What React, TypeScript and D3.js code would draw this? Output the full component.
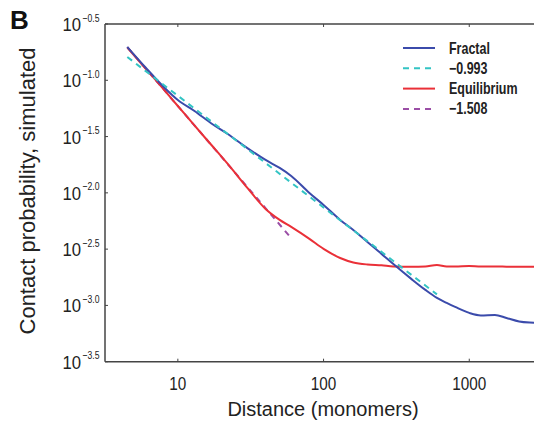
import React from "react";
import * as d3 from "d3";

// Distances (monomers)
const distances = [4.5, 6, 8, 10, 13, 17, 22, 30, 40, 50, 60, 80, 100, 130, 160, 200, 250, 300, 400, 500, 600, 700, 800, 1000, 1200, 1500, 1800, 2200, 2600, 3000];
// Fractal globule contact probability
const fractalProb = [0.1977, 0.130, 0.0872, 0.0668, 0.0534, 0.0413, 0.0333, 0.0250, 0.0196, 0.01664, 0.01413, 0.00998, 0.00781, 0.00575, 0.00468, 0.00366, 0.00287, 0.00234, 0.00172, 0.001373, 0.001166, 0.001052, 0.00097, 0.000858, 0.000815, 0.000823, 0.000774, 0.000721, 0.000704, 0.000699];
// Equilibrium globule contact probability
const equilibriumProb = [0.1956, 0.1273, 0.0829, 0.0591, 0.0397, 0.0266, 0.01806, 0.01105, 0.00719, 0.00575, 0.00498, 0.0039, 0.00318, 0.00264, 0.00241, 0.00231, 0.00227, 0.00222, 0.0022, 0.00222, 0.00229, 0.00222, 0.00222, 0.00224, 0.00222, 0.00222, 0.00221, 0.0022, 0.0022, 0.0022];
// Power-law fits (endpoints)
const fractalFitDist = [4.5, 600];
const fractalFitProb = [0.161, 0.001253];
const equilFitDist = [4.5, 58];
const equilFitProb = [0.1968, 0.00417];

const xTicks = [10, 100, 1000];
const yTickExps = ["−0.5", "−1.0", "−1.5", "−2.0", "−2.5", "−3.0", "−3.5"];
const yTickVals = [-0.5, -1.0, -1.5, -2.0, -2.5, -3.0, -3.5];

const legendLabels = ["Fractal", "−0.993", "Equilibrium", "−1.508"];

const W = 534, H = 424;
const L = 105, T = 24, B = 361.7;

export default function App() {
  const x = d3.scaleLog().domain([Math.pow(10, 0.5), Math.pow(10, 3.5)]).range([L, 542.1]);
  const y = d3.scaleLog().domain([Math.pow(10, -3.5), Math.pow(10, -0.5)]).range([B, T]);
  const line = d3.line<[number, number]>().x(d => x(d[0])).y(d => y(d[1])).curve(d3.curveMonotoneX);
  const zip = (a: number[], b: number[]) => a.map((v, i) => [v, b[i]] as [number, number]);

  const blue = "#3b4bab";
  const cyan = "#33c4c4";
  const red = "#ea3038";
  const purple = "#9b4ea6";
  const axisColor = "#444";
  const font = "'Liberation Sans', Arial, sans-serif";

  const legendItems = [
    { color: blue, dash: "none" },
    { color: cyan, dash: "6,5" },
    { color: red, dash: "none" },
    { color: purple, dash: "6,5" },
  ];

  return (
    <svg width={W} height={H} style={{ position: "absolute", left: 0, top: 0, background: "#fff" }}>
      <defs>
        <clipPath id="plot">
          <rect x={L} y={T} width={W - L} height={B - T} />
        </clipPath>
      </defs>
      <text x={10} y={29} fontFamily={font} fontWeight="bold" fontSize={26} fill="#111">B</text>

      {/* axes */}
      <line x1={L} y1={T} x2={L} y2={B} stroke={axisColor} strokeWidth={1.5} />
      <line x1={L} y1={B} x2={W} y2={B} stroke={axisColor} strokeWidth={1.5} />
      <line x1={L} y1={T} x2={W} y2={T} stroke={axisColor} strokeWidth={1.5} />

      {yTickVals.map((v, i) => {
        const yy = y(Math.pow(10, v));
        return (
          <g key={i}>
            <line x1={L} x2={L + 3} y1={yy} y2={yy} stroke={axisColor} strokeWidth={1} />
            <text transform={`translate(81,${yy + 7}) scale(0.88,1)`} textAnchor="end" fontFamily={font} fontSize={19} fill="#222">10</text>
            <text transform={`translate(82.5,${yy - 2.5}) scale(0.75,1)`} textAnchor="start" fontFamily={font} fontSize={11.5} fill="#222">{yTickExps[i]}</text>
          </g>
        );
      })}
      {xTicks.map((v, i) => (
        <g key={i}>
          <line x1={x(v)} x2={x(v)} y1={B} y2={B - 3} stroke={axisColor} strokeWidth={1} />
          <line x1={x(v)} x2={x(v)} y1={T} y2={T + 3} stroke={axisColor} strokeWidth={1} />
          <text transform={`translate(${x(v)},${B + 28}) scale(0.85,1)`} textAnchor="middle" fontFamily={font} fontSize={18} fill="#222">{v}</text>
        </g>
      ))}

      <text x={323} y={416} textAnchor="middle" fontFamily={font} fontSize={20} fill="#222">Distance (monomers)</text>
      <text transform={`translate(35,191) rotate(-90)`} textAnchor="middle" fontFamily={font} fontSize={22} fill="#222">Contact probability, simulated</text>

      <g clipPath="url(#plot)" fill="none">
        <path d={line(zip(equilFitDist, equilFitProb)) || ""} stroke={purple} strokeWidth={2} strokeDasharray="6,5" />
        <path d={line(zip(distances, equilibriumProb)) || ""} stroke={red} strokeWidth={2} />
        <path d={line(zip(distances, fractalProb)) || ""} stroke={blue} strokeWidth={2} />
        <path d={line(zip(fractalFitDist, fractalFitProb)) || ""} stroke={cyan} strokeWidth={2} strokeDasharray="6,5" />
      </g>

      {legendLabels.map((lab, i) => {
        const yy = 48 + i * 20.3;
        return (
          <g key={i}>
            <line x1={403} x2={435} y1={yy} y2={yy} stroke={legendItems[i].color} strokeWidth={2} strokeDasharray={legendItems[i].dash} />
            <text transform={`translate(449,${yy + 5.5}) scale(0.78,1)`} fontFamily={font} fontWeight="bold" fontSize={16} fill="#222">{lab}</text>
          </g>
        );
      })}
    </svg>
  );
}
